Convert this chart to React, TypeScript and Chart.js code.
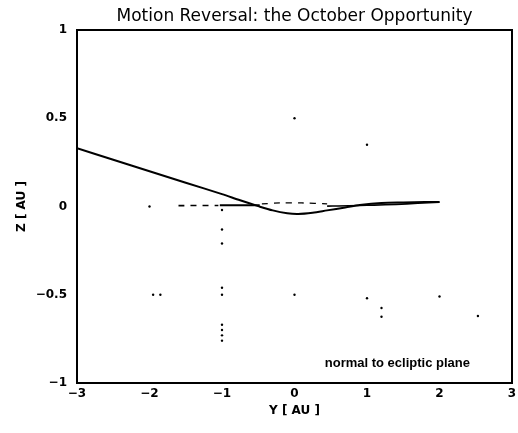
import React, { useEffect, useRef } from "react";
import { Chart, registerables } from "chart.js";

Chart.register(...registerables);

const titleText = "Motion Reversal: the October Opportunity";
const xAxisTitle = "Y [ AU ]";
const yAxisTitle = "Z [ AU ]";
const noteText = "normal to ecliptic plane";

// outgoing trajectory
const trajY = [-3, -2.5, -2, -1.5, -1, -0.75, -0.5, -0.3, -0.1, 0.05, 0.25, 0.45, 0.7, 0.9, 1.2, 1.5, 1.8, 2.0];
const trajZ = [0.33, 0.265, 0.2, 0.135, 0.07, 0.035, 0.002, -0.022, -0.038, -0.042, -0.035, -0.022, -0.006, 0.008, 0.02, 0.023, 0.025, 0.025];

// return leg near the ecliptic
const retY = [2.0, 1.7, 1.4, 1.1, 0.9, 0.6, 0.45];
const retZ = [0.025, 0.018, 0.012, 0.008, 0.006, 0.003, 0.002];
const midY = [-0.45, -0.2, 0.1, 0.45];
const midZ = [0.015, 0.02, 0.02, 0.015];
const leftY = [-1.03, -0.48];
const leftZ = [0.007, 0.007];
const farY = [-1.6, -1.05];
const farZ = [0.005, 0.006];

// scattered grid marks
const dotY = [0, 1.0, -2, -1.95, -1.85, -1, 0, 1, 1.2, 1.2, 2, 2.53, -1, -1, -1, -1, -1, -1, -1, -1];
const dotZ = [0.5, 0.35, 0, -0.5, -0.5, -0.5, -0.5, -0.52, -0.575, -0.625, -0.51, -0.62, -0.02, -0.13, -0.21, -0.46, -0.67, -0.7, -0.73, -0.76];

const xTicks = [-3, -2, -1, 0, 1, 2, 3];
const yTicks = [-1, -0.5, 0, 0.5, 1];

const pts = (xs: number[], ys: number[]) => xs.map((x, i) => ({ x, y: ys[i] }));
const fmt = (v: number) => (v < 0 ? "\u2212" + String(-v) : String(v));

export default function App() {
  const ref = useRef<HTMLCanvasElement>(null);
  useEffect(() => {
    document.body.style.margin = "0";
    const canvas = ref.current!;
    const framePlugin = {
      id: "frame",
      afterDatasetsDraw(chart: any) {
        const { ctx, chartArea: a } = chart;
        ctx.save();
        ctx.strokeStyle = "#000";
        ctx.lineWidth = 2;
        ctx.strokeRect(a.left, a.top, a.right - a.left, a.bottom - a.top);
        ctx.fillStyle = "#000";
        ctx.textBaseline = "middle";
        ctx.textAlign = "center";
        ctx.font = "17px 'DejaVu Sans'";
        ctx.fillText(titleText, (a.left + a.right) / 2, 17);
        ctx.font = "bold 13px 'Liberation Sans'";
        ctx.textAlign = "right";
        const xs = chart.scales.x;
        const ys = chart.scales.y;
        ctx.fillText(noteText, xs.getPixelForValue(2.42), ys.getPixelForValue(-0.89));
        ctx.restore();
      },
    };
    const line = (xs: number[], ys: number[], w: number, dash: number[] = []) => ({
      data: pts(xs, ys),
      showLine: true,
      borderColor: "#000",
      backgroundColor: "#000",
      borderWidth: w,
      borderDash: dash,
      pointRadius: 0,
      tension: 0.3,
    });
    const chart = new Chart(canvas, {
      type: "scatter",
      data: {
        datasets: [
          line(trajY, trajZ, 2),
          line(retY, retZ, 1.6),
          line(midY, midZ, 1.3, [6, 6]),
          line(leftY, leftZ, 2),
          line(farY, farZ, 1.6, [6, 6]),
          {
            data: pts(dotY, dotZ),
            showLine: false,
            pointRadius: 1.2,
            borderWidth: 0,
            backgroundColor: "#000",
            borderColor: "#000",
          },
        ],
      },
      options: {
        responsive: false,
        animation: false,
        layout: { padding: { top: 30, right: 6, left: 0, bottom: 0 } },
        plugins: { legend: { display: false }, title: { display: false }, tooltip: { enabled: false } },
        scales: {
          x: {
            type: "linear",
            min: -3,
            max: 3,
            afterBuildTicks: (s: any) => {
              s.ticks = xTicks.map((v) => ({ value: v }));
            },
            afterFit: (s: any) => {
              s.height = 50;
              s.paddingLeft = 0;
              s.paddingRight = 0;
            },
            grid: { display: false, drawTicks: false },
            border: { display: false },
            ticks: {
              padding: 4,
              color: "#000",
              font: { family: "'DejaVu Sans'", size: 12, weight: "bold" },
              callback: (v: any) => fmt(Number(v)),
              maxRotation: 0,
            },
            title: {
              display: true,
              text: xAxisTitle,
              color: "#000",
              font: { family: "'DejaVu Sans'", size: 12, weight: "bold" },
              padding: { top: 0, bottom: 15 },
            },
          },
          y: {
            type: "linear",
            min: -1,
            max: 1,
            afterBuildTicks: (s: any) => {
              s.ticks = yTicks.map((v) => ({ value: v }));
            },
            afterFit: (s: any) => {
              s.width = 77;
              s.paddingTop = 0;
              s.paddingBottom = 0;
            },
            grid: { display: false, drawTicks: false },
            border: { display: false },
            ticks: {
              padding: 10,
              color: "#000",
              font: { family: "'DejaVu Sans'", size: 12, weight: "bold" },
              callback: (v: any) => fmt(Number(v)),
            },
            title: {
              display: true,
              text: yAxisTitle,
              color: "#000",
              font: { family: "'DejaVu Sans'", size: 12, weight: "bold" },
              padding: { top: 15, bottom: 0 },
            },
          },
        },
      },
      plugins: [framePlugin],
    } as any);
    return () => chart.destroy();
  }, []);
  return <canvas ref={ref} width={518} height={433} style={{ display: "block" }} />;
}
